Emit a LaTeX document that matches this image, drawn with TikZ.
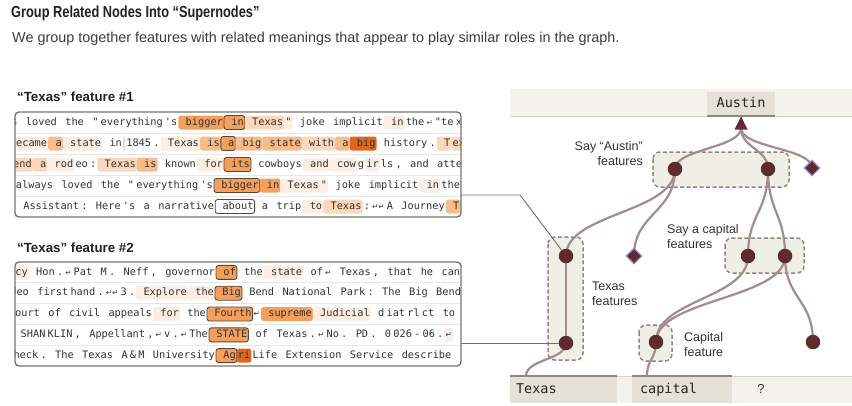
\documentclass[tikz,border=0pt]{standalone}
\usepackage{fontspec}
\setmainfont{Liberation Sans}
\setmonofont{DejaVu Sans Mono}
\newfontfamily\titlefont[FakeStretch=0.8]{Liberation Sans}
\newfontfamily\subfont{Liberation Sans}
\newfontfamily\arrfont{DejaVu Sans}
\usetikzlibrary{shapes.geometric}
\definecolor{titc}{HTML}{202124}
\definecolor{subc}{HTML}{3C3C3C}
\definecolor{tokc}{HTML}{333333}
\definecolor{boxc}{HTML}{77756A}
\definecolor{sepc}{HTML}{E8E8E8}
\definecolor{olc}{HTML}{5B4636}
\definecolor{o1}{HTML}{FDEEE2}
\definecolor{o2}{HTML}{FBD8BC}
\definecolor{o3}{HTML}{F8BB8C}
\definecolor{o4}{HTML}{F4A05C}
\definecolor{o6}{HTML}{E0651D}
\definecolor{bandc}{HTML}{F3F2EC}
\definecolor{bandline}{HTML}{D6D3C8}
\definecolor{tokfill}{HTML}{E5E1D6}
\definecolor{tokline}{HTML}{8E897C}
\definecolor{snfill}{HTML}{F0EFE7}
\definecolor{sndraw}{HTML}{8B887D}
\definecolor{nodec}{HTML}{5E2C2C}
\definecolor{purp}{HTML}{9A8FE6}
\definecolor{edgec}{HTML}{A78A8B}
\definecolor{connc}{HTML}{707062}
\definecolor{labc}{HTML}{333333}
\pgfdeclarelayer{bg}\pgfdeclarelayer{edge}\pgfsetlayers{bg,edge,main}
\newcommand\nl{\makebox[6.2pt]{\arrfont\fontsize{7.5}{8}\selectfont ↵}}
\newcommand\tokfont{\ttfamily\fontsize{10.3}{12}\selectfont}
\newcommand\tokrow[3]{%
  \coordinate (tkp) at (#1,#2);
  \foreach \kk/\ww in {#3}{%
    \node[tok,tk\kk,anchor=west] (tkn) at (tkp) {\ww};
    \coordinate (tkp) at (tkn.east);
  }%
}
\tikzset{
  tok/.style={inner xsep=1.1pt, inner ysep=0pt, outer sep=0pt, minimum height=14pt,
    text height=7.5pt, text depth=2pt, rounded corners=2.5pt, font=\tokfont, text=tokc},
  tkn/.style={}, tka/.style={fill=o1}, tkb/.style={fill=o2}, tkc/.style={fill=o3},
  tkd/.style={fill=o4}, tkf/.style={fill=o6},
  tkD/.style={fill=o4, draw=olc, line width=0.9pt},
  tkW/.style={fill=white, draw=olc, line width=0.9pt},
  fbox/.style={draw=boxc, line width=1.4pt, rounded corners=4pt, inner sep=0pt, outer sep=0pt},
  wtok/.style={fill=tokfill, inner sep=0pt, outer sep=0pt, font=\ttfamily\fontsize{13.5}{15}\selectfont,
    text height=9.5pt, text depth=2.5pt, text=black!85},
  snode/.style={fill=snfill, draw=sndraw, line width=1.5pt, dash pattern=on 4pt off 2.5pt, rounded corners=7pt},
  fnode/.style={circle, fill=nodec, minimum size=14.5pt, inner sep=0pt},
  dnode/.style={diamond, fill=nodec, draw=purp, line width=1.1pt, minimum size=16pt, inner sep=0pt},
  edge/.style={draw=edgec, line width=2.2pt},
  conn/.style={draw=connc, line width=0.9pt},
  lbl/.style={font=\fontsize{12.5}{15}\selectfont, text=labc, inner sep=0pt},
}
\begin{document}
\begin{tikzpicture}[x=1pt,y=-1pt]
\useasboundingbox (0,0) rectangle (852,405);
\begin{pgfonlayer}{bg}
\fill[white] (0,0) rectangle (852,405);
\end{pgfonlayer}

% headings
\node[anchor=base west, font=\titlefont\bfseries\fontsize{16}{18}\selectfont, text=titc, inner sep=0pt] (title) at (11,17) {Group Related Nodes Into “Supernodes”};
\node[anchor=base west, font=\subfont\fontsize{14.4}{16}\selectfont, text=subc, inner sep=0pt] (sub) at (12,42) {We group together features with related meanings that appear to play similar roles in the graph.};
\node[anchor=base west, font=\bfseries\fontsize{13.3}{15}\selectfont, text=titc, inner sep=0pt] (h1) at (17,101) {“Texas” feature \#1};
\node[anchor=base west, font=\bfseries\fontsize{13.3}{15}\selectfont, text=titc, inner sep=0pt] (h2) at (17,252) {“Texas” feature \#2};

% feature box 1
\fill[white, rounded corners=4pt] (15,112) rectangle (461,217);
\begin{scope}
\clip[rounded corners=4pt] (15,112) rectangle (461,217);
\foreach \yy in {133,154,175,196} \draw[sepc, line width=0.8pt] (15,\yy) -- (461,\yy);
\tokrow{10.2}{122.5}{n/s, n/~loved, n/~the, n/~", n/everything, n/'s, d/~bigger, D/~in, b/~Texas, a/", n/~joke, n/~implicit, a/~in, n/the, n/\nl, n/"te, n/xas}
\tokrow{15}{143.5}{a/ecame, c/~a, a/~state, n/~in, b/~, n/1845, n/., a/~Texas, c/~is, D/~a, c/~big, c/~state, b/~with, c/~a, f/~big, n/~history, n/., b/~T, b/exas}
\tokrow{12}{164.5}{b/end, b/~a, a/~rod, n/eo, n/:, b/~Texas, c/~is, n/~known, a/~for, D/~its, n/~cowboys, a/~and, a/~cow, n/g, a/ir, n/ls, n/{,}, n/~and, n/~attending}
\tokrow{14.8}{185.5}{n/always, n/~loved, n/~the, n/~", n/everything, n/'s, D/~bigger, d/~in, a/~Texas, a/", n/~joke, n/~implicit, a/~in, n/the}
\tokrow{16}{206.5}{n/~Assistant, n/:, n/~Here, n/'s, n/~a, n/~narrative, W/~about, n/~a, n/~trip, a/~to, b/~Texas, n/:, n/\nl\nl, n/A, n/~Journey, c/~T, c/o}
\end{scope}
\node[fbox, minimum width=446pt, minimum height=105pt] (f1) at (238,164.5) {};

% feature box 2
\fill[white, rounded corners=4pt] (15,262) rectangle (461,366);
\begin{scope}
\clip[rounded corners=4pt] (15,262) rectangle (461,366);
\foreach \yy in {282.8,303.6,324.4,345.2} \draw[sepc, line width=0.8pt] (15,\yy) -- (461,\yy);
\tokrow{14.2}{272.4}{a/cy, n/~Hon, n/., n/\nl, n/Pat, n/~M, n/., n/~Neff, n/{,}, n/~governor, D/~of, n/~the, a/~state, n/~of, n/\nl, n/~Texas, n/{,}, n/~that, n/~he, n/~can}
\tokrow{9.2}{293.2}{n/deo, n/~first, n/hand, n/., n/\nl\nl, n/3, n/., a/~Explore, a/~the, D/~Big, n/~Bend, n/~National, n/~Park, n/:, n/~The, n/~Big, n/~Bend}
\tokrow{7.8}{314}{n/court, n/~of, n/~civil, n/~appeals, a/~for, n/~the, D/~Fourth, n/\nl, d/~supreme, a/~Judicial, n/~d, n/iat, n/rl, n/ct, n/~to}
\tokrow{13.4}{334.8}{n/~SHAN, n/KLIN, n/{,}, n/~Appellant, n/{,}, n/\nl, n/v, n/., n/\nl, n/The, D/~STATE, n/~of, n/~Texas, n/., n/\nl, n/No, n/., n/~PD, n/., n/~0, n/026, n/-, n/06, n/., a/\nl}
\tokrow{6.2}{355.6}{n/check, n/., n/~The, n/~Texas, n/~A, n/\&, n/M, n/~University, D/~Ag, f/ri, n/Life, n/~Extension, n/~Service, n/~describe}
\end{scope}
\node[fbox, minimum width=446pt, minimum height=104pt] (f2) at (238,314) {};

% right panel bands
\begin{pgfonlayer}{bg}
\fill[bandc] (510,89) rectangle (852,116);
\draw[bandline, line width=0.8pt] (510,116) -- (852,116);
\fill[bandc] (510,376) rectangle (852,403);
\draw[bandline, line width=0.8pt] (510,376) -- (852,376);
\end{pgfonlayer}
\node[wtok, minimum width=68pt, minimum height=24pt] (austin) at (741,104) {Austin};
\draw[tokline, line width=1.4pt] (austin.south west) -- (austin.south east);
\node[wtok, minimum width=107pt, minimum height=27pt, text width=95pt, align=left, inner xsep=6pt] (ttex) at (563.5,389.5) {Texas};
\node[wtok, minimum width=100pt, minimum height=27pt, text width=84pt, align=left, inner xsep=8pt] (tcap) at (682,389.5) {capital};
\draw[tokline, line width=1.4pt] (ttex.north west) -- (ttex.north east);
\draw[tokline, line width=1.4pt] (tcap.north west) -- (tcap.north east);
\node[font=\fontsize{13}{15}\selectfont, text=labc, inner sep=0pt] (q) at (761,389) {?};

% supernode boxes
\begin{pgfonlayer}{bg}
\draw[snode] (653,152) rectangle (789,187);
\draw[snode] (548,237) rectangle (583,360);
\draw[snode] (725,238) rectangle (804,273);
\draw[snode] (639,325) rectangle (672,361);
\end{pgfonlayer}

% labels
\node[lbl, align=right, anchor=east] (la) at (643,154) {Say “Austin”\\features};
\node[lbl, align=left, anchor=west] (lc) at (667,237) {Say a capital\\features};
\node[lbl, align=left, anchor=west] (lt) at (592,294) {Texas\\features};
\node[lbl, align=left, anchor=west] (lf) at (684,344.5) {Capital\\feature};

% feature nodes
\node[fnode] (A1) at (675,169) {};
\node[fnode] (A2) at (768,169) {};
\node[dnode] (D2) at (812,168) {};
\node[fnode] (T1) at (566,256) {};
\node[fnode] (T2) at (566,343) {};
\node[dnode] (D1) at (634,256) {};
\node[fnode] (C1) at (748,256) {};
\node[fnode] (C2) at (785,256) {};
\node[fnode] (CF) at (656,342) {};
\node[fnode] (L) at (813,342) {};
\fill[nodec] (741,116.5) -- (734.5,129.5) -- (747.5,129.5) -- cycle;
\coordinate (tip) at (741,128);

% edges
\begin{pgfonlayer}{edge}
\draw[edge] ([xshift=16pt]ttex.north west) .. controls +(0,-17) and +(0,17) .. (T2.center);
\draw[edge] (T2.center) -- (T1.center);
\draw[edge] (T1.center) .. controls +(0,-43) and +(0,44) .. (A1.center);
\draw[edge] (D1.center) .. controls +(0,-43) and +(0,44) .. (A1.center);
\draw[edge] (A1.center) .. controls +(0,-20) and +(0,20) .. (tip);
\draw[edge] (A2.center) .. controls +(0,-20) and +(0,20) .. (tip);
\draw[edge] (D2.center) .. controls +(0,-20) and +(0,20) .. (tip);
\draw[edge] (C1.center) .. controls +(0,-43) and +(0,44) .. (A2.center);
\draw[edge] (C2.center) .. controls +(0,-43) and +(0,44) .. (A2.center);
\draw[edge] (CF.center) .. controls +(0,-43) and +(0,43) .. (C1.center);
\draw[edge] (CF.center) .. controls +(0,-43) and +(0,43) .. (C2.center);
\draw[edge] ([xshift=15pt]tcap.north west) .. controls +(0,-17) and +(0,17) .. (CF.center);
\draw[edge] (L.center) .. controls +(0,-43) and +(0,43) .. (C2.center);
\end{pgfonlayer}

% connectors from feature boxes
\coordinate (bend1) at (520,195);
\draw[conn] ([yshift=-30.5pt]f1.east) -- (bend1) -- (T1);
\draw[conn] ([yshift=-29pt]f2.east) -- (T2);
\end{tikzpicture}
\end{document}
